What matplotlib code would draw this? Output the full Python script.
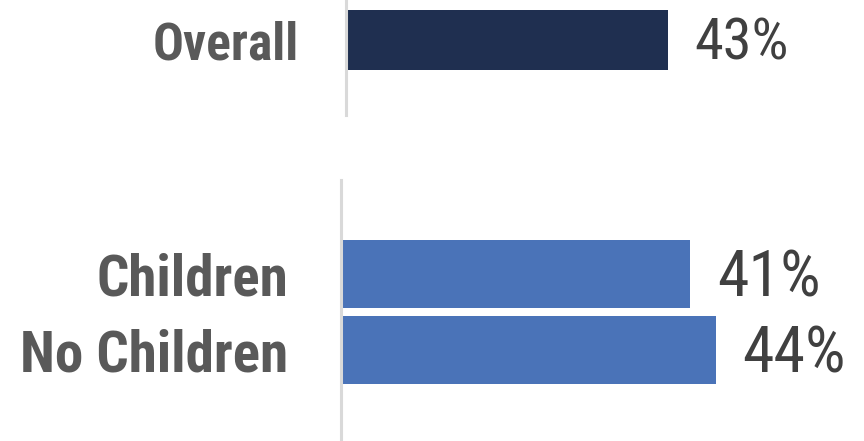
import matplotlib
matplotlib.use('Agg')
import matplotlib.pyplot as plt

# data
top_labels = ['Overall']
top_values = [43]
bottom_labels = ['Children', 'No Children']
bottom_values = [41, 44]

label_font = ['Roboto Condensed', 'DejaVu Sans']
value_font = ['Roboto Condensed', 'DejaVu Sans']
navy = '#1F2F50'
blue = '#4A73B8'
spine_col = '#D9D9D9'

fig = plt.figure(figsize=(8.64, 4.41), dpi=100)

# top panel
ax1 = fig.add_axes([346/864, (441-115)/441, (864-346)/864, 115/441])
ax1.barh(range(len(top_values)), top_values, height=0.6, color=navy)
ax1.set_xlim(0, 69.17)
ax1.set_ylim(0.75, -0.4)

# bottom panel
ax2 = fig.add_axes([341/864, 0, (864-341)/864, 261/441])
ax2.barh(range(len(bottom_values)), bottom_values, height=0.895, color=blue)
ax2.set_xlim(0, 61.37)
ax2.set_ylim(2.197, -1.237)

for ax, labels, values, fs, vfs, pad in [(ax1, top_labels, top_values, 37, 42, 34),
                                          (ax2, bottom_labels, bottom_values, 41, 46, 38)]:
    for s in ['top', 'right', 'bottom']:
        ax.spines[s].set_visible(False)
    ax.spines['left'].set_color(spine_col)
    ax.spines['left'].set_linewidth(2.2)
    ax.set_xticks([])
    ax.set_yticks(range(len(labels)))
    ax.set_yticklabels(labels, fontsize=fs, fontweight='bold', color='#595959', family=label_font)
    ax.tick_params(axis='y', length=0, pad=pad)
    for i, v in enumerate(values):
        ax.annotate(f'{v}%', (v, i), xytext=(19, -3), textcoords='offset points',
                    va='center', ha='left', fontsize=vfs, color='#404040', family=value_font)

fig.savefig('out.png', dpi=100)
